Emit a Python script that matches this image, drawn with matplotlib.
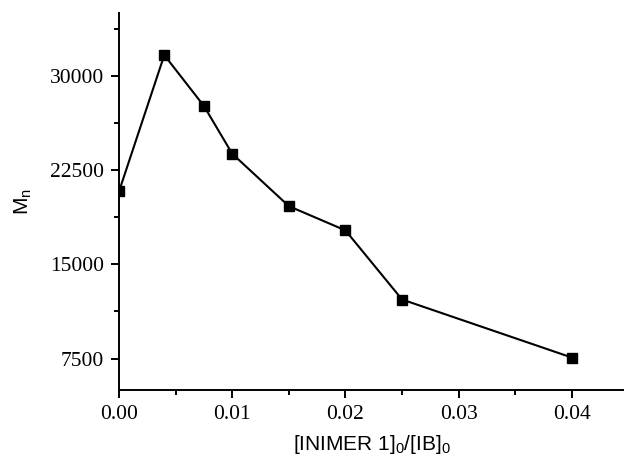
import matplotlib
matplotlib.use("Agg")
import matplotlib.pyplot as plt
from matplotlib.ticker import MultipleLocator, FixedLocator

ratio = [0.0, 0.004, 0.0075, 0.01, 0.015, 0.02, 0.025, 0.04]
mn = [20800, 31650, 27600, 23800, 19630, 17700, 12200, 7580]
xticks = [0.00, 0.01, 0.02, 0.03, 0.04]
xticklabels = ["0.00", "0.01", "0.02", "0.03", "0.04"]
yticks = [7500, 15000, 22500, 30000]
yticklabels = ["7500", "15000", "22500", "30000"]

plt.rcParams['mathtext.fontset'] = 'custom'
plt.rcParams['mathtext.rm'] = 'Liberation Sans'
plt.rcParams['mathtext.it'] = 'Liberation Sans'

fig = plt.figure(figsize=(6.24, 4.59), dpi=100)
ax = fig.add_axes([119/624, 69/459, 505/624, 377/459])

ax.plot(ratio, mn, color='black', lw=1.5, marker='s', markersize=7,
        markerfacecolor='black', markeredgecolor='black')

ax.set_xlim(0, 0.0446)
ax.set_ylim(5000, 35000)
ax.set_xticks(xticks)
ax.set_xticklabels(xticklabels, fontfamily='Liberation Serif', fontsize=15.5)
ax.set_yticks(yticks)
ax.set_yticklabels(yticklabels, fontfamily='Liberation Serif', fontsize=15.5)
ax.xaxis.set_minor_locator(MultipleLocator(0.005))
ax.yaxis.set_minor_locator(FixedLocator([3750 + 7500 * i for i in range(5)]))

for s in ['top', 'right']:
    ax.spines[s].set_visible(False)
for s in ['left', 'bottom']:
    ax.spines[s].set_linewidth(1.4)

ax.tick_params(which='major', direction='out', length=6, width=1.4, pad=5)
ax.tick_params(which='minor', direction='out', length=3.5, width=1.4)
ax.tick_params(axis='y', which='major', pad=5)

ax.set_xlabel(r'[INIMER 1]$_\mathrm{0}$/[IB]$_\mathrm{0}$', fontfamily='Liberation Sans',
              fontsize=15, labelpad=6)
ax.set_ylabel(r'M$_\mathrm{n}$', fontfamily='Liberation Sans', fontsize=15, labelpad=11)

fig.savefig("out.png", dpi=100)
